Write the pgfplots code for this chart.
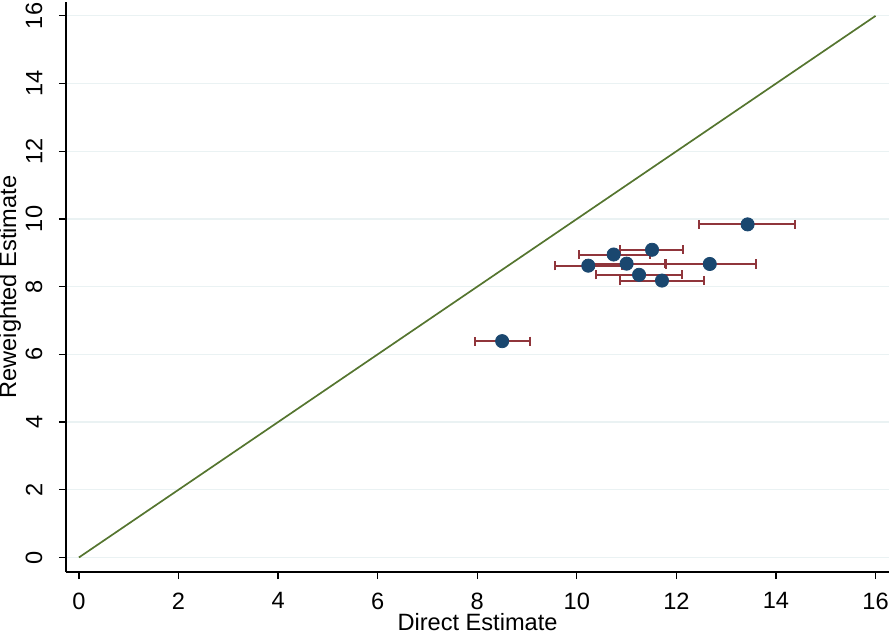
\documentclass[border=0pt]{standalone}
\usepackage{pgfplots}
\pgfplotsset{compat=1.18}
\usepackage{fontspec}
\setmainfont{Liberation Sans}
\definecolor{stnavy}{RGB}{26,71,111}
\definecolor{stmaroon}{RGB}{144,53,59}
\definecolor{stgreen}{RGB}{85,117,47}
\definecolor{stgrid}{RGB}{234,242,243}
\begin{document}
\begin{tikzpicture}[font=\fontsize{11.8}{14}\selectfont]
\begin{axis}[
  name=ax,
  scale only axis,
  width=411.5pt, height=285pt,
  xmin=-0.26, xmax=16.27,
  ymin=-0.43, ymax=16.41,
  axis x line*=bottom, axis y line*=left,
  axis line style={black, line width=0.7pt},
  xtick={0,2,...,16}, ytick={0,2,...,16},
  tick align=outside,
  major tick length=3.6pt,
  tick style={black, line width=0.6pt},
  /pgf/number format/assume math mode=true,
  ymajorgrids,
  major grid style={stgrid, line width=0.6pt},
  xticklabel style={anchor=north, inner sep=0pt},
  xticklabel shift=6.5pt,
  yticklabel style={rotate=90, anchor=south, inner sep=0pt},
  yticklabel shift=8pt,
  xlabel={Direct Estimate},
  ylabel={Reweighted Estimate},
  xlabel style={at={(axis description cs:0.5,0)}, anchor=base, yshift=-29pt},
  ylabel style={at={(axis description cs:-0.068,0.5)}, anchor=center},
  clip=false,
]
\addplot[stgreen, line width=0.85pt] coordinates {(0,0) (16,16)};
\addplot[stmaroon, line width=1pt, only marks, mark=none,
  error bars/.cd, x dir=both, x explicit,
  error bar style={stmaroon, line width=1pt, solid},
  error mark options={stmaroon, line width=1pt, mark size=2.3pt, rotate=90}]
  table[x=x, y=y, x error minus=xm, x error plus=xp] {
x y xm xp
13.43 9.84 0.98 0.95
11.51 9.09 0.64 0.63
10.74 8.95 0.70 0.72
10.23 8.62 0.66 0.68
11.00 8.68 0.81 0.77
12.67 8.67 0.87 0.92
11.25 8.35 0.87 0.87
11.71 8.18 0.84 0.85
8.50 6.39 0.55 0.56
};
\addplot[only marks, mark=*, mark size=3.3pt, mark options={fill=stnavy, draw=stnavy}]
  table[x=x, y=y] {
x y
13.43 9.84
11.51 9.09
10.74 8.95
10.23 8.62
11.00 8.68
12.67 8.67
11.25 8.35
11.71 8.18
8.50 6.39
};
\end{axis}
\pgfresetboundingbox
\path[use as bounding box] ([xshift=-33pt,yshift=-31pt]ax.south west) rectangle ([xshift=2.5pt,yshift=1pt]ax.north east);
\end{tikzpicture}
\end{document}
